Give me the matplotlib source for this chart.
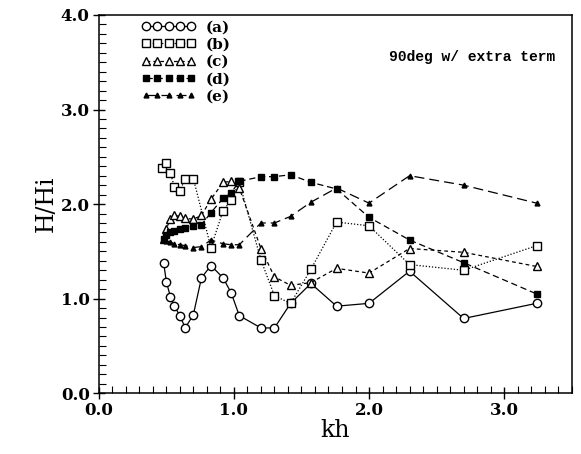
import numpy as np
import matplotlib.pyplot as plt
from matplotlib.ticker import MultipleLocator, FormatStrFormatter

kh = [0.48, 0.50, 0.53, 0.56, 0.60, 0.64, 0.70, 0.76, 0.83, 0.92, 0.98,
      1.04, 1.20, 1.30, 1.42, 1.57, 1.76, 2.00, 2.30, 2.70, 3.24]

a = [1.38, 1.18, 1.02, 0.92, 0.82, 0.69, 0.83, 1.22, 1.35, 1.22, 1.06,
     0.82, 0.69, 0.69, 0.95, 1.16, 0.92, 0.95, 1.29, 0.79, 0.95]

kh_b = [0.47, 0.50, 0.53, 0.56, 0.60, 0.64, 0.70, 0.83, 0.92, 0.98,
        1.04, 1.20, 1.30, 1.42, 1.57, 1.76, 2.00, 2.30, 2.70, 3.24]
b = [2.38, 2.43, 2.33, 2.18, 2.14, 2.27, 2.27, 1.54, 1.93, 2.04,
     2.23, 1.41, 1.03, 0.95, 1.31, 1.81, 1.77, 1.36, 1.30, 1.56]

c = [1.63, 1.74, 1.84, 1.88, 1.87, 1.85, 1.84, 1.88, 2.05, 2.23, 2.24,
     2.17, 1.53, 1.23, 1.14, 1.17, 1.32, 1.27, 1.53, 1.49, 1.34]

d = [1.63, 1.67, 1.70, 1.72, 1.74, 1.75, 1.77, 1.78, 1.91, 2.06, 2.12,
     2.24, 2.29, 2.29, 2.31, 2.23, 2.16, 1.86, 1.62, 1.38, 1.05]

e = [1.62, 1.61, 1.60, 1.58, 1.57, 1.56, 1.54, 1.55, 1.62, 1.58, 1.57,
     1.57, 1.80, 1.80, 1.87, 2.02, 2.17, 2.01, 2.30, 2.20, 2.01]

labels = ['(a)', '(b)', '(c)', '(d)', '(e)']
title = '90deg w/ extra term'

plt.rcParams['font.family'] = ['DejaVu Serif']

fig = plt.figure(figsize=(5.81, 4.54), dpi=100)
ax = fig.add_axes([0.170, 0.134, 0.814, 0.833])

lw = 0.9
ax.plot(kh, a, color='k', lw=lw, ls='-', marker='o', ms=6, mfc='white',
        mec='k', mew=1.0, label=labels[0])
ax.plot(kh_b, b, color='k', lw=lw, ls=(0, (1, 1.5)), marker='s', ms=5.5,
        mfc='white', mec='k', mew=1.0, label=labels[1])
ax.plot(kh, c, color='k', lw=lw, ls=(0, (3, 2.5)), marker='^', ms=5.5,
        mfc='white', mec='k', mew=1.0, label=labels[2])
ax.plot(kh, d, color='k', lw=lw, ls=(0, (5, 3)), marker='s', ms=4.5,
        mfc='k', mec='k', label=labels[3])
ax.plot(kh, e, color='k', lw=lw, ls=(0, (8, 4)), marker='^', ms=3.5,
        mfc='k', mec='k', label=labels[4])

ax.set_xlim(0, 3.5)
ax.set_ylim(0, 4)
ax.xaxis.set_major_locator(MultipleLocator(1.0))
ax.xaxis.set_minor_locator(MultipleLocator(0.1))
ax.yaxis.set_major_locator(MultipleLocator(1.0))
ax.yaxis.set_minor_locator(MultipleLocator(0.1))
ax.xaxis.set_major_formatter(FormatStrFormatter('%.1f'))
ax.yaxis.set_major_formatter(FormatStrFormatter('%.1f'))
ax.tick_params(which='major', direction='inout', length=9, width=1.0,
               labelsize=12, top=False, right=False, pad=2)
ax.tick_params(which='minor', direction='in', length=5, width=0.8,
               top=False, right=False)
for lab in ax.get_xticklabels() + ax.get_yticklabels():
    lab.set_fontweight('bold')
for sp in ax.spines.values():
    sp.set_linewidth(1.1)

ax.set_xlabel('kh', fontsize=17, labelpad=0)
ax.set_ylabel('H/Hi', fontsize=17, labelpad=2)

ax.text(0.965, 0.89, title, transform=ax.transAxes, ha='right', va='center',
        fontsize=10.5, fontweight='bold', family='Liberation Mono')

leg = ax.legend(loc='upper left', bbox_to_anchor=(0.07, 1.01), numpoints=5,
                frameon=False, handlelength=3.6, handletextpad=0.6,
                labelspacing=0.22, borderpad=0.1,
                prop={'family': 'DejaVu Serif', 'weight': 'bold', 'size': 11})

fig.savefig('out.png', dpi=100)
